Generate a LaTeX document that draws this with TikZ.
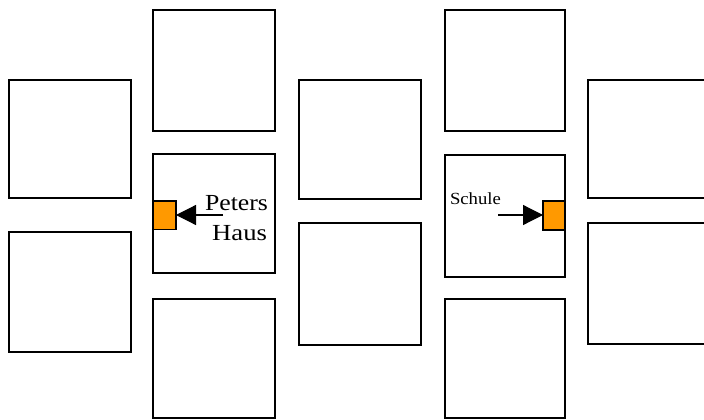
\documentclass[tikz,border=0pt]{standalone}
\usepackage{fontspec}
\setmainfont{Liberation Serif}
\usetikzlibrary{arrows.meta}
\definecolor{houseorange}{HTML}{FF9900}
\tikzset{
  block/.style={draw=black, line width=1.3pt, fill=white, inner sep=0pt, outer sep=0pt},
  marker/.style={draw=black, line width=1.1pt, fill=houseorange, inner sep=0pt, outer sep=0pt},
  pointer/.style={line width=1.2pt, -{Triangle[length=20pt,width=20pt]}},
  label/.style={inner sep=0pt, outer sep=0pt}
}
% block(name, x1, y1, x2, y2) in pixel units
\newcommand{\blk}[6][block]{%
  \node[#1, minimum width={(#5)-(#3)}, minimum height={(#6)-(#4)}]
    (#2) at ({((#3)+(#5))/2},{((#4)+(#6))/2}) {};}
\begin{document}
\begin{tikzpicture}[x=1pt, y=-1pt]
\useasboundingbox (0,0) rectangle (704,420);
\clip (0,0) rectangle (704,420);
% street blocks, column by column
\blk{c1a}{9}{80}{131}{198}
\blk{c1b}{9}{232}{131}{352}
\blk{c2a}{153}{10}{275}{131}
\blk{c2b}{153}{154}{275}{273}
\blk{c2c}{153}{299}{275}{418}
\blk{c3a}{299}{80}{421}{199}
\blk{c3b}{299}{223}{421}{345}
\blk{c4a}{445}{10}{565}{131}
\blk{c4b}{445}{155}{565}{277}
\blk{c4c}{445}{299}{565}{418}
\blk{c5a}{588}{80}{714}{198}
\blk{c5b}{588}{223}{714}{344}
% the two buildings
\blk[marker]{haus}{153.5}{201}{176}{229.5}
\blk[marker]{schule}{543}{201}{564.5}{230}
% pointers
\coordinate (hausfrom) at (223,215);
\coordinate (schulefrom) at (498,215);
\draw[pointer] (hausfrom) -- (haus.east |- hausfrom);
\draw[pointer] (schulefrom) -- (schule.west |- schulefrom);
% labels
\node[label, anchor=base east, font=\fontsize{23}{23}\selectfont] (peters) at (268,210) {\scalebox{1.12}[1]{Peters}};
\node[label, anchor=base east, font=\fontsize{23}{23}\selectfont] (hauslbl) at (267,240) {\scalebox{1.16}[1]{Haus}};
\node[label, anchor=base west, font=\fontsize{17}{17}\selectfont] (schulelbl) at (450,204) {\scalebox{1.1}[1]{Schule}};
\end{tikzpicture}
\end{document}
